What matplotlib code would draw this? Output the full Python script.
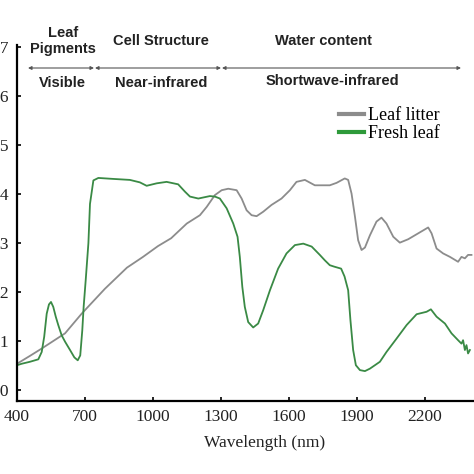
import matplotlib.pyplot as plt
from matplotlib.patches import FancyArrowPatch

# Reflectance spectra
fresh_wl = [400, 421, 457, 494, 509, 520, 531, 541, 550, 560, 571, 582, 597, 612,
            634, 653, 668, 679, 688, 694, 703, 715, 722, 737, 759, 825, 898, 942,
            972, 1016, 1060, 1111, 1141, 1163, 1200, 1251, 1273, 1295, 1325, 1354,
            1373, 1383, 1394, 1405, 1420, 1442, 1464, 1486, 1516, 1552, 1589, 1626,
            1663, 1700, 1736, 1758, 1780, 1800, 1830, 1845, 1861, 1871, 1883, 1895,
            1913, 1935, 1957, 2001, 2030, 2074, 2119, 2163, 2207, 2226, 2251, 2288,
            2317, 2346, 2361, 2368, 2376, 2383, 2390, 2398]
fresh_r = [0.051, 0.054, 0.058, 0.063, 0.078, 0.109, 0.156, 0.175, 0.18, 0.17,
           0.15, 0.133, 0.112, 0.099, 0.082, 0.067, 0.061, 0.071, 0.122, 0.17,
           0.224, 0.30, 0.38, 0.428, 0.433, 0.431, 0.429, 0.424, 0.417, 0.422,
           0.425, 0.42, 0.405, 0.395, 0.391, 0.396, 0.395, 0.391, 0.371, 0.34,
           0.313, 0.272, 0.211, 0.17, 0.139, 0.128, 0.136, 0.163, 0.204, 0.248,
           0.279, 0.296, 0.299, 0.293, 0.276, 0.265, 0.255, 0.252, 0.248, 0.232,
           0.204, 0.143, 0.082, 0.051, 0.041, 0.039, 0.044, 0.058, 0.078, 0.105,
           0.133, 0.155, 0.16, 0.165, 0.15, 0.136, 0.116, 0.102, 0.095, 0.102,
           0.082, 0.092, 0.075, 0.082]

litter_wl = [400, 457, 509, 612, 685, 788, 885, 956, 1022, 1080, 1149, 1207, 1237,
             1273, 1303, 1332, 1369, 1391, 1413, 1435, 1457, 1486, 1523, 1567, 1604,
             1633, 1670, 1714, 1780, 1810, 1846, 1861, 1876, 1891, 1905, 1920, 1935,
             1957, 1986, 2008, 2030, 2060, 2089, 2126, 2170, 2214, 2229, 2251, 2280,
             2310, 2346, 2361, 2376, 2390, 2405]
litter_r = [0.054, 0.07, 0.085, 0.116, 0.156, 0.207, 0.25, 0.272, 0.294, 0.31,
            0.34, 0.357, 0.374, 0.398, 0.408, 0.411, 0.408, 0.391, 0.367, 0.357,
            0.355, 0.364, 0.378, 0.391, 0.408, 0.425, 0.429, 0.418, 0.418, 0.423,
            0.432, 0.429, 0.401, 0.354, 0.306, 0.286, 0.291, 0.316, 0.344, 0.352,
            0.34, 0.313, 0.301, 0.308, 0.32, 0.332, 0.32, 0.289, 0.279, 0.272,
            0.262, 0.272, 0.269, 0.276, 0.276]

x_ticks = [400, 700, 1000, 1300, 1600, 1900, 2200]
y_ticks = [0.0, 0.1, 0.2, 0.3, 0.4, 0.5, 0.6, 0.7]

GRAY = '#8c8c8c'
GREEN = '#3a8a45'
W = 474

fig = plt.figure(figsize=(4.74, 4.74), dpi=100)
# axes run past the left/right edges, the original picture is cropped
ax = fig.add_axes([17 / W, 73 / W, 476 / W, 356.4 / W])

ax.plot(litter_wl, litter_r, color=GRAY, lw=1.3, label='Leaf litter')
ax.plot(fresh_wl, fresh_r, color=GREEN, lw=1.3, label='Fresh leaf')

ax.set_xlim(400, 2500)
ax.set_ylim(-0.022, 0.705)
ax.set_xticks(x_ticks)
ax.set_yticks(y_ticks)
ax.set_yticklabels([f'{v:.1f}' for v in y_ticks])

for s in ['top', 'right']:
    ax.spines[s].set_visible(False)
for s in ['left', 'bottom']:
    ax.spines[s].set_linewidth(1.6)

serif = 'Liberation Serif'
ax.tick_params(direction='in', length=3, width=1.2, labelsize=12.5, pad=6)
for lab in ax.get_xticklabels() + ax.get_yticklabels():
    lab.set_fontfamily(serif)
    lab.set_color('#222222')
ax.set_xlabel('Wavelength (nm)', fontsize=12.5, family=serif, color='#222222')
ax.xaxis.set_label_coords((265 - 17) / 476, -0.095)

# legend with thicker handle lines
h1, = ax.plot([], [], color=GRAY, lw=3)
h2, = ax.plot([], [], color='#2e9a3a', lw=3)
ax.legend([h1, h2], ['Leaf litter', 'Fresh leaf'], loc='upper left',
          bbox_to_anchor=(339 / W, 1 - 107 / W), bbox_transform=fig.transFigure,
          frameon=False, prop={'family': serif, 'size': 13},
          handlelength=1.4, handletextpad=0.2, labelspacing=0.05,
          borderpad=0, borderaxespad=0)

# region annotations above the plot
sans = 'Liberation Sans'
def ftext(px, py, s):
    fig.text(px / W, 1 - py / W, s, ha='center', va='center', fontsize=10.5,
             fontweight='bold', family=sans, color='#222222', linespacing=1.15)

ftext(63, 41, 'Leaf\nPigments')
ftext(161, 41, 'Cell Structure')
ftext(323, 41, 'Water content')
ftext(62, 83, 'Visible')
ftext(161, 83, 'Near-infrared')
ftext(332, 81, 'Shortwave-infrared')

arrow_y = 1 - 68 / W
for x0, x1 in [(28, 94), (95, 221), (222, 461)]:
    fig.add_artist(FancyArrowPatch(
        (x0 / W, arrow_y), (x1 / W, arrow_y), transform=fig.transFigure,
        arrowstyle='<|-|>', mutation_scale=5, lw=0.8, color='#555555',
        shrinkA=0, shrinkB=0))

fig.savefig('out.png', dpi=100)
